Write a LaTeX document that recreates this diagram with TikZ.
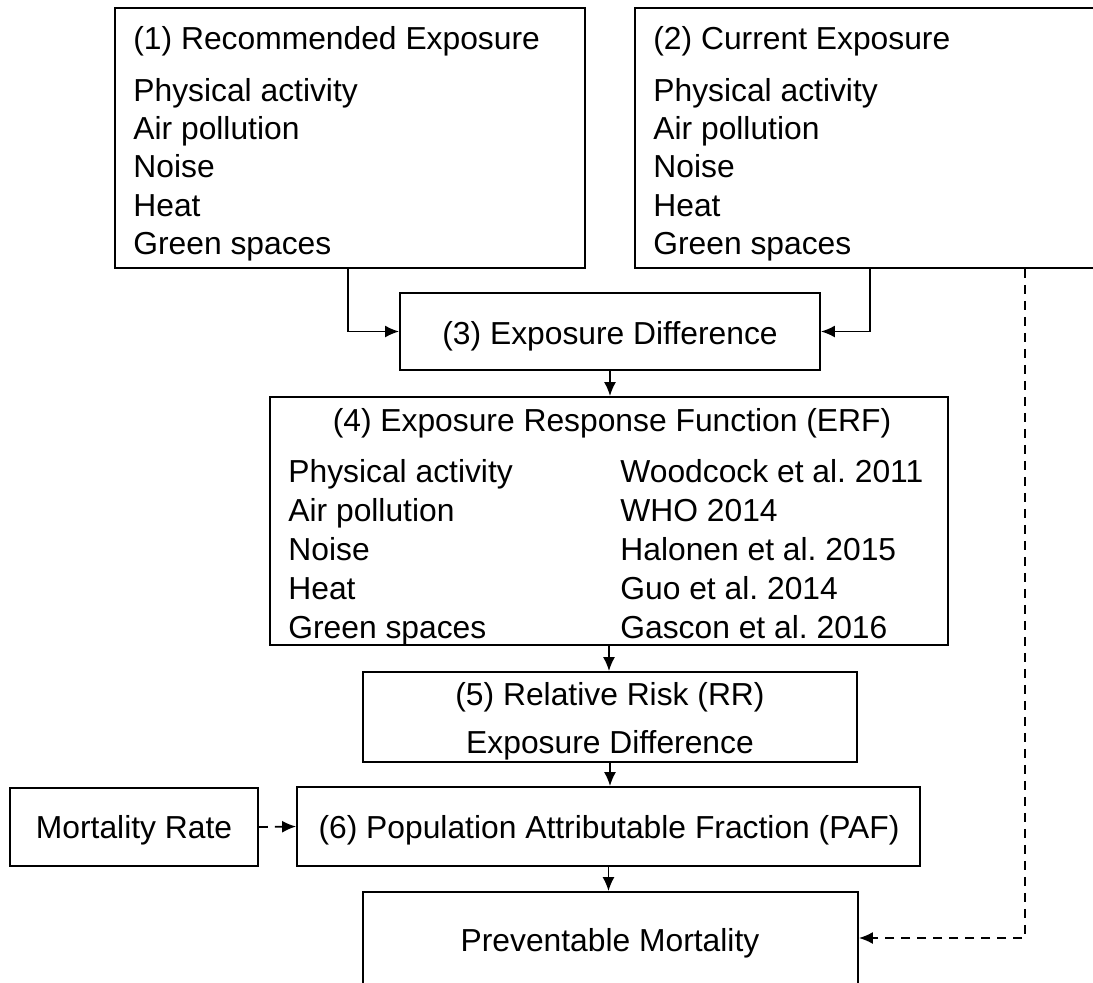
\documentclass[tikz,border=0pt]{standalone}
\usepackage{fontspec}
\setmainfont{Liberation Sans}
\usetikzlibrary{arrows.meta,calc}
\frenchspacing
\begin{document}
\begin{tikzpicture}[x=0.5pt,y=-0.5pt,
  every node/.style={font=\fontsize{15.9}{19}\selectfont, inner sep=0pt},
  box/.style={draw, line width=0.9pt, rectangle, anchor=center},
  lbl/.style={anchor=base west},
  clbl/.style={anchor=base},
  arr/.style={line width=0.9pt, -{Latex[length=7pt,width=6pt]}},
  darr/.style={arr, dash pattern=on 4.5pt off 3.5pt}]
\path[use as bounding box, clip] (0,0) rectangle (1093,982);
% boxes
\node[box, minimum width=235pt, minimum height=130pt] (b1) at (350,138) {};
\node[box, minimum width=257.5pt, minimum height=130pt] (b2) at (892.5,138) {};
\node[box, minimum width=210pt, minimum height=38.5pt] (b3) at (610,331.5) {};
\node[box, minimum width=339pt, minimum height=124pt] (b4) at (609,521) {};
\node[box, minimum width=247pt, minimum height=45pt] (b5) at (610,717) {};
\node[box, minimum width=311.5pt, minimum height=39.5pt] (b6) at (608.5,826.5) {};
\node[box, minimum width=124pt, minimum height=39pt] (mr) at (134,827) {};
\node[box, minimum width=247.5pt, minimum height=46pt] (b7) at (610.5,938) {};
% box texts
\node[clbl] (t3) at (610,344) {(3) Exposure Difference};
\node[clbl] (t6) at (609,838) {(6) Population Attributable Fraction (PAF)};
\node[clbl] (tmr) at (134,838) {Mortality Rate};
\node[clbl] (t7) at (610,951) {Preventable Mortality};
% box 1 texts
\node[lbl] (t1) at (133,49) {(1) Recommended Exposure};
\node[lbl] (t1a) at (133,101) {Physical activity};
\node[lbl] (t1b) at (133,139) {Air pollution};
\node[lbl] (t1c) at (133,177) {Noise};
\node[lbl] (t1d) at (133,216) {Heat};
\node[lbl] (t1e) at (133,254) {Green spaces};
% box 2 texts
\node[lbl] (t2) at (653,49) {(2) Current Exposure};
\node[lbl] (t2a) at (653,101) {Physical activity};
\node[lbl] (t2b) at (653,139) {Air pollution};
\node[lbl] (t2c) at (653,177) {Noise};
\node[lbl] (t2d) at (653,216) {Heat};
\node[lbl] (t2e) at (653,254) {Green spaces};
% box 4 texts
\node[clbl] (t4) at (612,431) {(4) Exposure Response Function (ERF)};
\node[lbl] (t4a) at (288,482) {Physical activity};
\node[lbl] (t4b) at (288,521) {Air pollution};
\node[lbl] (t4c) at (288,560) {Noise};
\node[lbl] (t4d) at (288,599) {Heat};
\node[lbl] (t4e) at (288,638) {Green spaces};
\node[lbl] (r4a) at (620,482) {Woodcock et al. 2011};
\node[lbl] (r4b) at (620,521) {WHO 2014};
\node[lbl] (r4c) at (620,560) {Halonen et al. 2015};
\node[lbl] (r4d) at (620,599) {Guo et al. 2014};
\node[lbl] (r4e) at (620,638) {Gascon et al. 2016};
% box 5 texts
\node[clbl] (t5) at (610,705) {(5) Relative Risk (RR)};
\node[clbl] (t5b) at (610,753) {Exposure Difference};
% connectors
\draw[arr] ($(b1.south)+(-2,0)$) |- (b3.west);
\draw[arr] ($(b2.south)+(-22.5,0)$) |- (b3.east);
\draw[darr] ($(b2.south)+(132.5,0)$) |- (b7.east);
\draw[arr] (b3.south) -- (b3.south |- b4.north);
\draw[arr] (b4.south) -- (b4.south |- b5.north);
\draw[arr] (b5.south) -- (b5.south |- b6.north);
\draw[arr] (b6.south) -- (b6.south |- b7.north);
\draw[darr] (mr.east) -- (b6.west);
\end{tikzpicture}
\end{document}
